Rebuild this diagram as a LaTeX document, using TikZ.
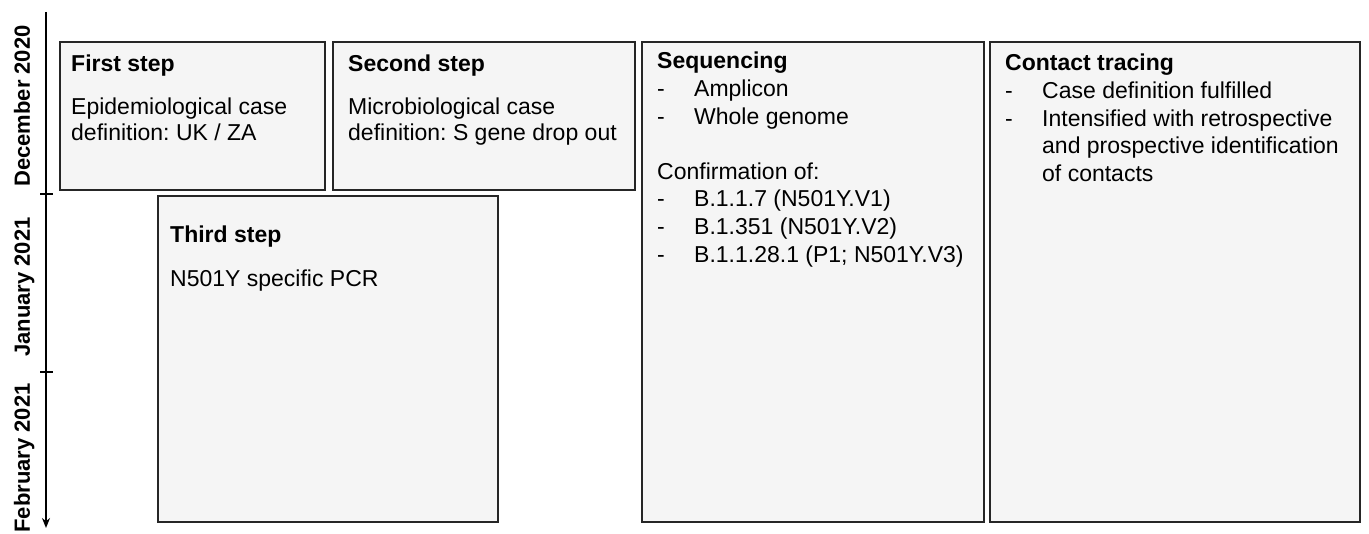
\documentclass[tikz,border=0pt]{standalone}
\usepackage{fontspec}
\setmainfont{Liberation Sans}
\usetikzlibrary{arrows.meta,calc}
\definecolor{boxfill}{HTML}{F5F5F5}
\definecolor{boxline}{HTML}{262626}
\frenchspacing
\newcommand{\itm}[1]{\makebox[37pt][l]{-}#1}
\newcommand{\ind}[1]{\hspace*{37pt}#1}
\begin{document}
\begin{tikzpicture}[x=1pt,y=-1pt,
 box/.style={draw=boxline, fill=boxfill, line width=1.3pt, anchor=north west, inner sep=0pt, outer sep=0pt},
 txt/.style={anchor=base west, inner sep=0pt, font=\fontsize{23}{25.5}\selectfont},
 rtxt/.style={anchor=base west, inner sep=0pt, font=\fontsize{23}{27.6}\selectfont},
 month/.style={rotate=90, font=\bfseries\fontsize{22}{24}\selectfont, anchor=base, inner sep=0pt},
 axisline/.style={line width=2pt, -{Stealth[length=10pt,width=8pt]}},
 tick/.style={line width=2pt}
]
\useasboundingbox (0,0) rectangle (1369,534);
% axis
\coordinate (axtop) at (46,12);
\coordinate (axbot) at (46,528);
\draw[axisline] (axtop) -- (axbot);
\draw[tick] (40,194) -- (53,194);
\draw[tick] (40,372) -- (53,372);
\node[month] (m1) at (30,106) {December 2020};
\node[month] (m2) at (30,287) {January 2021};
\node[month] (m3) at (30,458) {February 2021};
% boxes
\node[box, minimum width=265pt, minimum height=148pt] (b1) at (60,42) {};
\node[box, minimum width=302pt, minimum height=148pt] (b2) at (333,42) {};
\node[box, minimum width=340pt, minimum height=326pt] (b3) at (158,196) {};
\node[box, minimum width=342pt, minimum height=480pt] (b4) at (642,42) {};
\node[box, minimum width=370pt, minimum height=480pt] (b5) at (990,42) {};
% texts
\node[txt] (t1h) at (71,72) {\textbf{First step}};
\node[txt] (t1b) at (71,115) {\parbox[t]{250pt}{\raggedright Epidemiological case\\definition: UK / ZA}};
\node[txt] (t2h) at (348,72) {\textbf{Second step}};
\node[txt] (t2b) at (348,115) {\parbox[t]{285pt}{\raggedright Microbiological case\\definition: S gene drop out}};
\node[txt] (t3h) at (170,243) {\textbf{Third step}};
\node[txt] (t3b) at (170,287) {N501Y specific PCR};
\node[rtxt] (t4) at (657,69) {\parbox[t]{320pt}{\raggedright\textbf{Sequencing}\\
\itm{Amplicon}\\
\itm{Whole genome}\\
\mbox{}\\
Confirmation of:\\
\itm{B.1.1.7 (N501Y.V1)}\\
\itm{B.1.351 (N501Y.V2)}\\
\itm{B.1.1.28.1 (P1; N501Y.V3)}}};
\node[rtxt] (t5) at (1005,71) {\parbox[t]{350pt}{\raggedright\textbf{Contact tracing}\\
\itm{Case definition fulfilled}\\
\itm{Intensified with retrospective}\\
\ind{and prospective identification}\\
\ind{of contacts}}};
\end{tikzpicture}
\end{document}
